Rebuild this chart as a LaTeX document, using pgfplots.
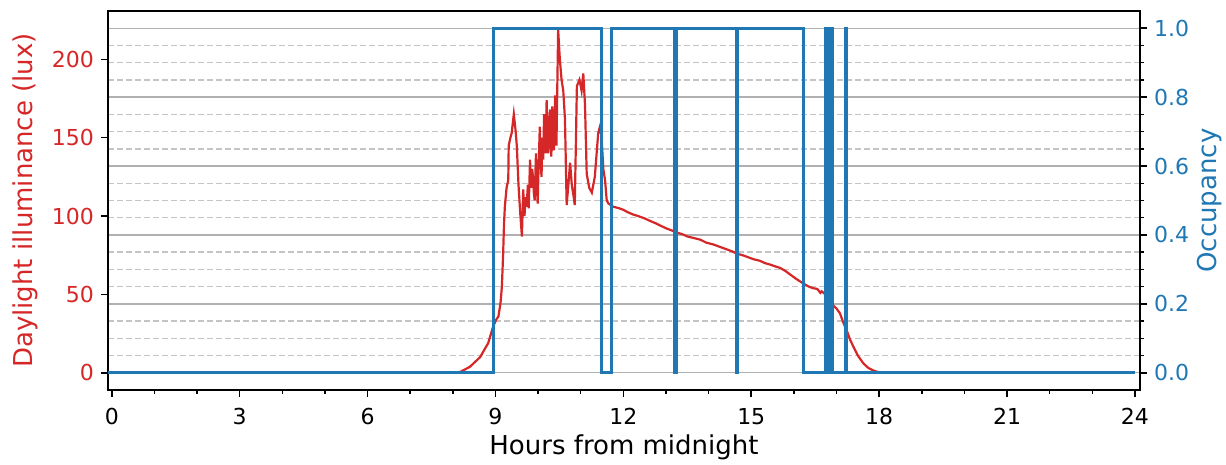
\documentclass[border=0pt]{standalone}
\usepackage{fontspec}
\setmainfont{DejaVu Sans}
\usepackage{pgfplots}
\pgfplotsset{compat=1.18}
\definecolor{tabred}{HTML}{D62728}
\definecolor{tabblue}{HTML}{1F77B4}
\definecolor{gridgray}{HTML}{B0B0B0}
\definecolor{gridlight}{HTML}{C4C4C4}

\pgfplotsset{
  common/.style={
    set layers,
    scale only axis, width=516pt, height=189.5pt,
    xmin=-0.09, xmax=24.12,
    tick align=outside,
    axis line style={line width=1pt, black},
    major tick length=3.5pt, minor tick length=2pt,
    every tick/.style={black, line width=0.75pt},
    tick label style={font=\fontsize{11}{12}\selectfont},
    label style={font=\fontsize{13}{15}\selectfont},
    /pgf/number format/assume math mode=true,
  },
}

\begin{document}
\begin{tikzpicture}
% linke Achse: Tageslicht
\begin{axis}[
  common,
  ymin=-10.995, ymax=230.9,
  xtick={0,3,...,24}, minor x tick num=2,
  ytick={0,50,100,150,200},
  xtick pos=bottom, ytick pos=left,
  yticklabel style={color=tabred},
  xticklabel style={anchor=north, yshift=-2pt},
  xlabel={Hours from midnight},
  ylabel={Daylight illuminance (lux)},
  xlabel style={at={(axis description cs:0.5,-0.1689)}, anchor=base},
  ylabel style={at={(axis description cs:-0.07267,0.5)}, anchor=base, rotate=0, color=tabred},
]
\addplot[tabred, line width=1.1pt] coordinates {
  (-0.09,0) (7.9,0) (8.17,0.5) (8.40,3.8) (8.64,10) (8.83,19) (8.95,30) (9.02,34)
  (9.07,36) (9.12,45) (9.15,55) (9.18,76) (9.20,95) (9.22,106) (9.26,118) (9.30,123)
  (9.31,145) (9.35,150) (9.38,153) (9.43,165) (9.47,155) (9.50,145) (9.54,120) (9.58,102)
  (9.62,87) (9.65,117) (9.68,100) (9.71,112) (9.73,106) (9.76,120) (9.78,105) (9.81,136)
  (9.84,118) (9.86,130) (9.88,125) (9.90,115) (9.92,110) (9.95,140) (9.97,120) (9.99,108)
  (10.01,130) (10.04,157) (10.06,135) (10.08,125) (10.10,150) (10.12,136) (10.14,165)
  (10.16,150) (10.18,140) (10.20,174) (10.22,150) (10.24,140) (10.26,160) (10.28,168)
  (10.31,138) (10.33,170) (10.35,160) (10.37,142) (10.40,177) (10.43,145)
  (10.47,219) (10.51,200) (10.55,187) (10.59,180) (10.63,162) (10.67,107) (10.71,120)
  (10.75,134) (10.79,120) (10.83,113) (10.86,107) (10.91,183) (10.97,187) (11.02,180)
  (11.06,191) (11.10,171) (11.14,127) (11.20,118) (11.26,115) (11.33,125) (11.41,153)
  (11.45,157) (11.49,150) (11.53,130) (11.57,123) (11.61,110) (11.65,108) (11.76,106)
  (11.9,105) (12.0,104) (12.1,102.5) (12.23,101) (12.35,100) (12.5,98.5) (12.62,97)
  (12.75,95.5) (12.9,93.5) (13.02,92) (13.12,91) (13.25,89.5) (13.38,88.5) (13.5,87)
  (13.65,86) (13.80,85) (13.95,83) (14.1,82) (14.25,80.5) (14.4,79) (14.55,77.5)
  (14.66,76) (14.8,75) (14.9,74) (15.05,72.5) (15.2,71.5) (15.32,70) (15.45,69)
  (15.55,68) (15.67,67) (15.8,65) (15.9,63) (16.05,60) (16.22,57) (16.35,55)
  (16.45,54) (16.55,53.5) (16.62,51) (16.65,52) (16.72,50.5) (16.77,50) (16.85,46)
  (16.92,43) (17.0,41) (17.08,38) (17.16,32) (17.24,27) (17.32,21) (17.39,17)
  (17.5,11) (17.63,6) (17.75,3) (17.86,1.5) (18.02,0) (24.0,0)
};
\end{axis}

% rechte Achse: Belegung
\begin{axis}[
  common,
  ymin=-0.05, ymax=1.05,
  axis x line=none, axis y line*=right,
  ytick={0,0.2,0.4,0.6,0.8,1.0}, minor y tick num=3,
  ymajorgrids, yminorgrids,
  major grid style={gridgray, line width=0.7pt},
  minor grid style={gridlight, line width=0.7pt, dash pattern=on 3pt off 1.5pt},
  yticklabel style={color=tabblue, /pgf/number format/.cd, fixed, fixed zerofill, precision=1},
  ylabel={Occupancy},
  ylabel style={at={(axis description cs:1.07422,0.5)}, anchor=base, rotate=0, color=tabblue},
]
\addplot[tabblue, line width=1.4pt, const plot] coordinates {
  (-0.09,0) (8.95,1) (11.49,0) (11.73,1) (13.20,0) (13.24,1) (14.66,0) (14.675,1)
  (16.22,0) (16.75,1) (16.79,0) (16.81,1) (16.85,0) (16.87,1) (16.91,0)
  (17.20,1) (17.23,0) (24.0,0)
};
\end{axis}
\pgfresetboundingbox
\path[use as bounding box] (-54pt,-37.5pt) rectangle (559pt,195pt);
\end{tikzpicture}
\end{document}
